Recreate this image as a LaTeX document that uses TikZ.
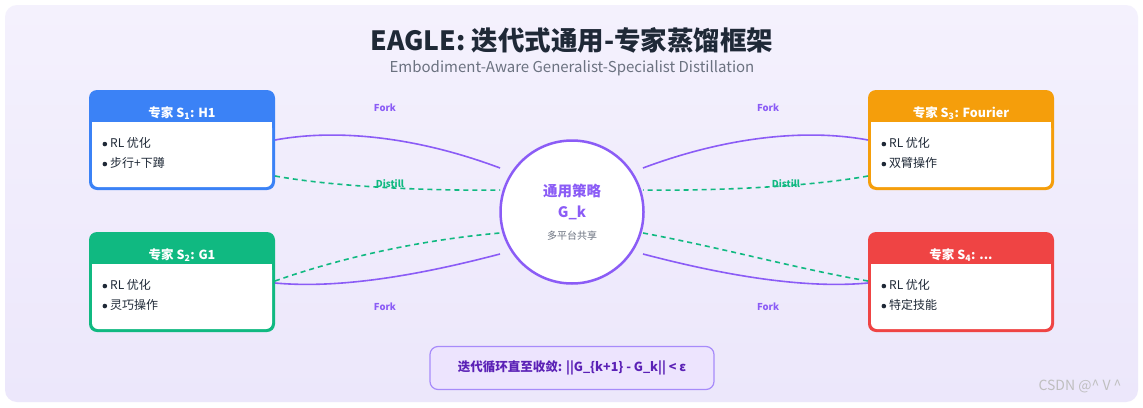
\documentclass[tikz,border=0pt]{standalone}
\usepackage{fontspec}
\setmainfont{Noto Sans CJK SC}
\usetikzlibrary{positioning}
\definecolor{bgA}{HTML}{F4F1FD}
\definecolor{bgB}{HTML}{ECE7FB}
\definecolor{titlec}{HTML}{1F2937}
\definecolor{subc}{HTML}{6B7280}
\definecolor{cblue}{HTML}{3B82F6}
\definecolor{cgreen}{HTML}{10B981}
\definecolor{corange}{HTML}{F59E0B}
\definecolor{cred}{HTML}{EF4444}
\definecolor{cpurp}{HTML}{8B5CF6}
\definecolor{dpurp}{HTML}{5B21B6}
\definecolor{lpurp}{HTML}{EDE4FE}
\definecolor{bpurp}{HTML}{A78BFA}
\definecolor{dist}{HTML}{10B981}
\definecolor{txt}{HTML}{1F2937}
\tikzset{
  x=1pt,y=-1pt,
  fork/.style={cpurp,line width=1.6pt},
  distl/.style={dist,line width=1.6pt,dash pattern=on 5pt off 4pt},
  lab/.style={font=\fontsize{9.5}{10}\selectfont\bfseries},
  item/.style={anchor=west,font=\fontsize{12}{14}\selectfont,text=txt},
  head/.style={font=\fontsize{12.5}{14}\selectfont\bfseries,text=white},
}
\newcommand{\bul}{\raisebox{1.2pt}{\tikz[x=1pt,y=1pt]\fill[txt] (0,0) circle (2.3pt);}\hspace{3pt}}
\newcommand{\expert}[6]{%
  \fill[#2,rounded corners=8pt] (#3,#4) rectangle ++(186,100);
  \fill[white,rounded corners=6pt] (#3+3,#4+32) rectangle ++(180,65);
  \fill[white] (#3+3,#4+32) rectangle ++(180,20);
  \node[head] (#1h) at (#3+93,#4+23) {#5};
  \node[item] (#1a) at (#3+10,#4+53) {\bul RL 优化};
  \node[item] (#1b) at (#3+10,#4+73) {\bul #6};
  \coordinate (#1) at (#3,#4);
}
\begin{document}
\begin{tikzpicture}
\useasboundingbox (0,0) rectangle (1143,407);
\fill[white] (0,0) rectangle (1143,407);
\shade[top color=bgA,bottom color=bgB,rounded corners=12pt] (5,5) rectangle (1138,402);
\node[font=\fontsize{26.5}{30}\selectfont\bfseries,text=titlec] (title) at (572,40) {EAGLE: 迭代式通用-专家蒸馏框架};
\node[font=\fontsize{15}{16}\selectfont,text=subc] (sub) at (572,68) {Embodiment-Aware Generalist-Specialist Distillation};
\expert{s1}{cblue}{89}{90}{专家 S\textsubscript{1}: H1}{步行+下蹲}
\expert{s2}{cgreen}{89}{232}{专家 S\textsubscript{2}: G1}{灵巧操作}
\expert{s3}{corange}{868}{90}{专家 S\textsubscript{3}: Fourier}{双臂操作}
\expert{s4}{cred}{868}{232}{专家 S\textsubscript{4}: ...}{特定技能}
\node[circle,draw=cpurp,line width=2.5pt,fill=white,minimum size=143pt] (g) at (572,212) {};
\node[font=\fontsize{14.5}{16}\selectfont\bfseries,text=cpurp] (g1) at (572,191) {通用策略};
\node[font=\fontsize{14.5}{16}\selectfont\bfseries,text=cpurp] (g2) at (572,213) {G\_k};
\node[font=\fontsize{10}{12}\selectfont,text=subc] (g3) at (572,236) {多平台共享};
\coordinate (a1) at (275,140); \coordinate (b1) at (500,168);
\coordinate (a2) at (275,176); \coordinate (b2) at (500,190);
\coordinate (a3) at (275,283); \coordinate (b3) at (500,254);
\coordinate (a4) at (275,281); \coordinate (b4) at (500,233);
\coordinate (c1) at (868,140); \coordinate (d1) at (643,168);
\coordinate (c2) at (868,176); \coordinate (d2) at (643,190);
\coordinate (c3) at (868,283); \coordinate (d3) at (643,254);
\coordinate (c4) at (868,281); \coordinate (d4) at (643,233);
\draw[fork] (a1) .. controls (340,128) and (420,138) .. (b1);
\draw[distl] (a2) .. controls (330,186) and (420,191) .. (b2);
\draw[fork] (a3) .. controls (340,289) and (420,275) .. (b3);
\draw[distl] (a4) .. controls (340,258) and (420,240) .. (b4);
\draw[fork] (c1) .. controls (803,128) and (723,138) .. (d1);
\draw[distl] (c2) .. controls (813,186) and (723,191) .. (d2);
\draw[fork] (c3) .. controls (803,289) and (723,275) .. (d3);
\draw[distl] (c4) .. controls (803,270) and (723,248) .. (d4);
\node[lab,text=cpurp] (f1) at (385,108) {Fork};
\node[lab,text=cpurp] (f2) at (385,307) {Fork};
\node[lab,text=cpurp] (f3) at (768,108) {Fork};
\node[lab,text=cpurp] (f4) at (768,307) {Fork};
\node[lab,text=dist] (l1) at (390,184) {Distill};
\node[lab,text=dist] (l2) at (786,184) {Distill};
\node[draw=bpurp,fill=lpurp,line width=1.2pt,rounded corners=8pt,minimum width=284pt,minimum height=43pt,font=\fontsize{12.5}{14}\selectfont\bfseries,text=dpurp] (conv) at (572,368) {迭代循环直至收敛: ||G\_\{k+1\} - G\_k|| < ε};
\node[font=\fontsize{14}{16}\selectfont,text=black!25] (wm) at (1080,386) {CSDN @\^{} V \^{}};
\end{tikzpicture}
\end{document}
